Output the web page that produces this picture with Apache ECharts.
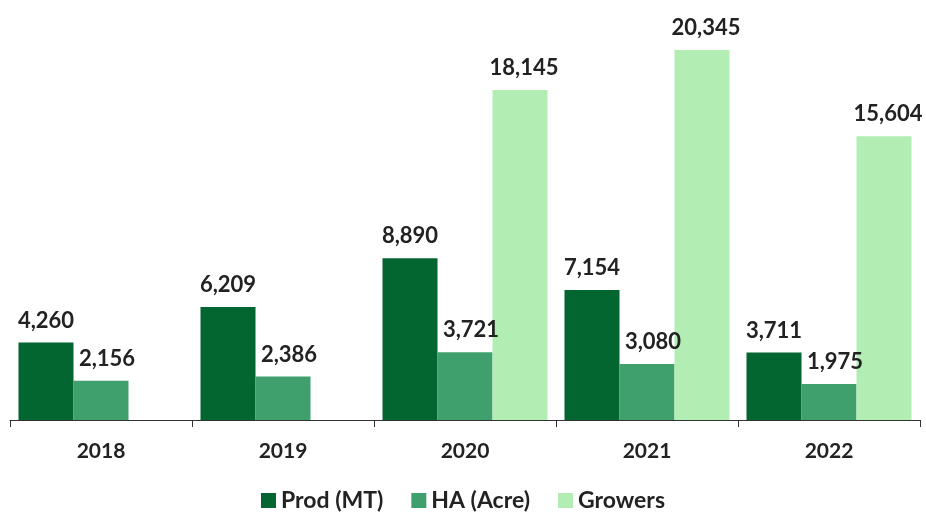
<!DOCTYPE html>
<html><head><meta charset="utf-8">
<script src="https://cdn.jsdelivr.net/npm/echarts@6/dist/echarts.min.js"></script>
<style>html,body{margin:0;padding:0;background:#fff}#c{width:926px;height:512px}</style>
</head><body><div id="c"></div>
<script>
const categories = ['2018','2019','2020','2021','2022'];
const prod = [4260, 6209, 8890, 7154, 3711];
const ha = [2156, 2386, 3721, 3080, 1975];
const growers = [null, null, 18145, 20345, 15604];

const chart = echarts.init(document.getElementById('c'));
const fontFamily = 'Lato, "Open Sans", sans-serif';
const lbl = (dx) => ({
  show: true, position: 'top', distance: 11, offset: [dx, 0],
  fontFamily, fontWeight: 'bold', fontSize: 22, color: '#222',
  formatter: p => p.value == null ? '' : p.value.toLocaleString('en-US')
});
chart.setOption({
  animation: false,
  grid: { left: 10, right: 6, top: 20, bottom: 92 },
  legend: {
    top: 484, left: 'center', itemWidth: 15, itemHeight: 15, itemGap: 28,
    icon: 'rect',
    textStyle: { fontFamily, fontWeight: 'bold', fontSize: 23, color: '#222' }
  },
  xAxis: {
    type: 'category', data: categories,
    axisLine: { lineStyle: { color: '#333', width: 1 } },
    axisTick: { show: true, length: 7, lineStyle: { color: '#333' } },
    axisLabel: { fontFamily, fontWeight: 'bold', fontSize: 21, color: '#222', margin: 21 }
  },
  yAxis: { type: 'value', min: 0, max: 22000, show: false, splitLine: { show: false } },
  series: [
    { name: 'Prod (MT)', type: 'bar', data: prod, barWidth: 55, barGap: '0%',
      itemStyle: { color: '#03652F' }, label: lbl(0) },
    { name: 'HA (Acre)', type: 'bar', data: ha, barWidth: 55, barGap: '0%',
      itemStyle: { color: '#3FA06E' }, label: lbl(6) },
    { name: 'Growers', type: 'bar', data: growers, barWidth: 55, barGap: '0%',
      itemStyle: { color: '#B2EEB4' }, label: lbl(4) }
  ]
});
</script></body></html>
